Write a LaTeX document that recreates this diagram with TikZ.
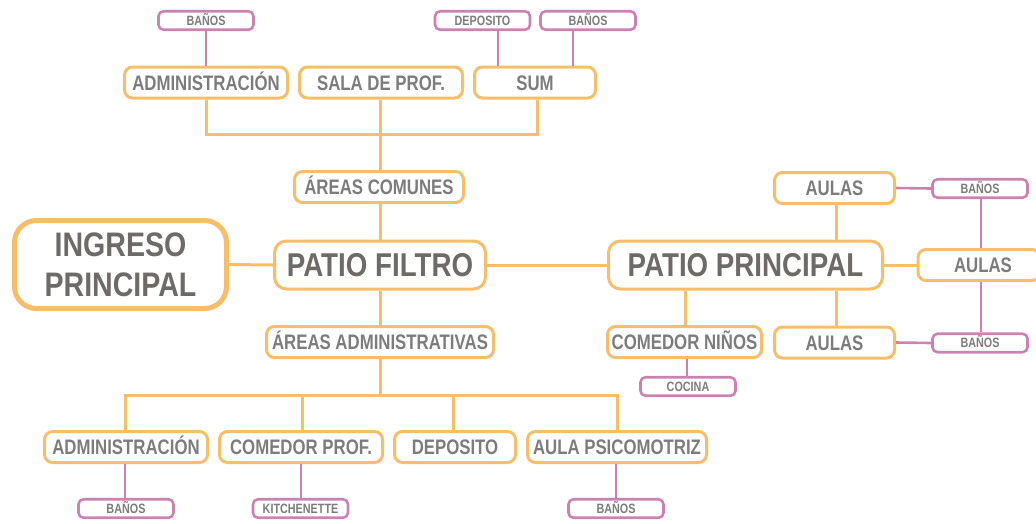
\documentclass[tikz,border=0pt]{standalone}
\usepackage{fontspec}
\setmainfont{Liberation Sans}[FakeStretch=0.8]
\newfontfamily\bigf{Liberation Sans}[FakeStretch=0.84]
\definecolor{org}{HTML}{F6BE68}
\definecolor{pnk}{HTML}{CC82B0}
\definecolor{txt}{HTML}{7C7C7C}
\definecolor{txtd}{HTML}{6E6A68}
\begin{document}
\begin{tikzpicture}[x=1pt,y=-1pt,
  obox/.style={draw=org,line width=3pt,rounded corners=8pt,fill=white,inner sep=0pt,
     text=txt,font=\fontsize{21}{22}\selectfont\bfseries,minimum height=31pt,
     text height=15pt,text depth=0pt},
  pbox/.style={draw=pnk,line width=2.6pt,rounded corners=5pt,fill=white,inner sep=0pt,
     text=txt,font=\fontsize{13.5}{14}\selectfont\bfseries,minimum width=95pt,minimum height=18.5pt,
     text height=9.7pt,text depth=0pt},
  big/.style={draw=org,line width=3pt,rounded corners=12pt,fill=white,inner sep=0pt,
     text=txtd,font=\bigf\fontsize{33}{34}\selectfont\bfseries,minimum height=48pt,
     text height=23.6pt,text depth=0pt},
  oline/.style={draw=org,line width=3pt},
  pline/.style={draw=pnk,line width=2.6pt}]
\useasboundingbox (0,0) rectangle (1036,523);
\coordinate (busL) at (206,134);
\coordinate (busR) at (537,134);
\coordinate (busM) at (380,134);
\coordinate (lbL) at (125,395);
\coordinate (lbR) at (617,395);
\coordinate (lbM) at (380,395);
% nodes
\node[pbox] (b1) at (206,20.5) {BAÑOS};
\node[pbox] (dep1) at (482.5,20.5) {DEPOSITO};
\node[pbox] (b2) at (588,20.5) {BAÑOS};
\node[obox,minimum width=163pt] (adm1) at (206,82.5) {ADMINISTRACIÓN};
\node[obox,minimum width=163pt] (sala) at (381,82.5) {SALA DE PROF.};
\node[obox,minimum width=121pt] (sum) at (535,82.5) {SUM};
\node[obox,minimum width=169pt] (ac) at (379,187) {ÁREAS COMUNES};
\node[big,minimum width=211pt] (pf) at (380,265) {PATIO FILTRO};
\node[draw=org,line width=5pt,rounded corners=22pt,fill=white,inner sep=0pt,text=txtd,
  font=\bigf\fontsize{34}{40}\selectfont\bfseries,align=center,minimum width=212pt,minimum height=88pt]
  (ing) at (120.5,264.5) {INGRESO\\PRINCIPAL};
\node[obox,minimum width=227pt] (aa) at (380,342) {ÁREAS ADMINISTRATIVAS};
\node[obox,minimum width=163pt] (adm2) at (126,447) {ADMINISTRACIÓN};
\node[obox,minimum width=163pt] (cp) at (301,447) {COMEDOR PROF.};
\node[obox,minimum width=121pt] (dep2) at (455,447) {DEPOSITO};
\node[obox,minimum width=179pt] (psi) at (617,447) {AULA PSICOMOTRIZ};
\node[pbox] (b3) at (126,508.5) {BAÑOS};
\node[pbox] (kit) at (300.5,508.5) {KITCHENETTE};
\node[pbox] (b4) at (616,508.5) {BAÑOS};
\node[big,minimum width=274pt] (pp) at (745.5,265) {PATIO PRINCIPAL};
\node[obox,minimum width=120pt] (au1) at (834.5,188) {AULAS};
\node[obox,minimum width=120pt] (au3) at (834.5,342.5) {AULAS};
\node[obox,minimum width=154pt] (cn) at (684.5,342) {COMEDOR NIÑOS};
\node[pbox] (coc) at (688,386.5) {COCINA};
\node[pbox] (b5) at (980,188.5) {BAÑOS};
\node[pbox] (b6) at (980,343) {BAÑOS};
% connectors
\path[pline] (b5.south -| 981,0) -- (b6.north -| 981,0);
\node[obox,minimum width=122pt,text width=116pt,align=center] (au2) at (979,265) {\hspace*{8pt}AULAS};
\path[pline] (b1) -- (adm1);
\path[pline] (dep1.south -| 498,0) -- (sum.north -| 498,0);
\path[pline] (b2.south -| 573,0) -- (sum.north -| 573,0);
\path[oline] (adm1.south) -- (busL) -- (busR) -- (sum.south -| busR);
\path[oline] (sala.south -| busM) -- (ac.north -| busM);
\path[oline] (ac.south -| busM) -- (pf.north -| busM);
\path[oline] (ing.east) -- (pf.west);
\path[oline] (pf.south -| busM) -- (aa.north -| busM);
\path[oline] (aa.south -| lbM) -- (lbM);
\path[oline] (adm2.north -| lbL) -- (lbL) -- (lbR) -- (psi.north -| lbR);
\path[oline] (cp.north -| 302,0) -- (302,395);
\path[oline] (dep2.north -| 453,0) -- (453,395);
\path[pline] (adm2.south -| 125,0) -- (b3.north -| 125,0);
\path[pline] (cp.south -| 301,0) -- (kit.north -| 301,0);
\path[pline] (psi.south -| 616,0) -- (b4.north -| 616,0);
\path[oline] (pf.east) -- (pp.west);
\path[oline] (pp.east) -- (au2.west);
\path[oline] (au1.south -| 836,0) -- (pp.north -| 836,0);
\path[oline] (pp.south -| 836,0) -- (au3.north -| 836,0);
\path[oline] (pp.south -| 685,0) -- (cn.north -| 685,0);
\path[pline] (cn.south -| 687,0) -- (coc.north -| 687,0);
\path[pline] (au1.east) -- (b5.west);
\path[pline] (au3.east) -- (b6.west);
\end{tikzpicture}
\end{document}
